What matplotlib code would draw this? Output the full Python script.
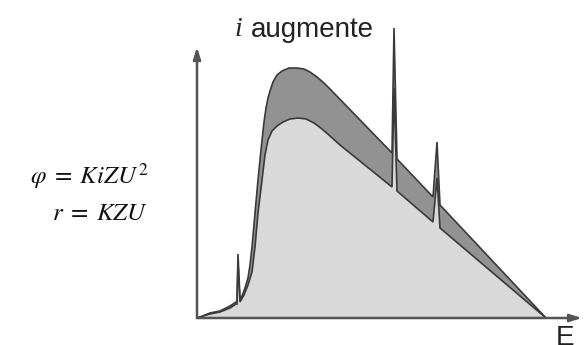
import matplotlib
matplotlib.use("Agg")
import matplotlib.pyplot as plt

# Energy (arbitrary units) and intensity of the two spectra
energy_high = [0, 3, 13, 23, 33, 39, 40, 41, 43, 45, 48, 51, 53, 55, 58, 61, 64, 67, 69, 71,
               73, 76, 80, 85, 92, 100, 107, 113, 120, 127, 133, 195, 197, 200, 236, 240, 243, 349]
intensity_high = [0, 1, 5, 7, 12, 16, 16, 64, 19, 22, 30, 40, 53, 71, 105, 138, 168, 196, 210, 220,
                  227, 236, 243, 247, 250, 250, 249, 246, 241, 235, 229, 165, 290, 159, 121, 176, 113, 0]

energy_low = [0, 3, 13, 23, 33, 39, 40, 41, 43, 47, 51, 55, 58, 61, 65, 68, 71, 75, 80, 86,
              93, 101, 109, 117, 125, 133, 143, 195, 197, 200, 236, 240, 243, 349]
intensity_low = [0, 1, 4, 6, 10, 14, 14, 55, 16, 23, 33, 46, 71, 105, 138, 163, 178, 187, 192, 196,
                 199, 200, 199, 195, 189, 182, 173, 131, 230, 127, 96, 140, 90, 0]

label_top = "augmente"
label_x = "E"
formula_1 = r"$\varphi\;=\;KiZU^2$"
formula_2 = r"$r\;=\;KZU$"

plt.rcParams['mathtext.fontset'] = 'stix'

W, H = 587, 345
fig = plt.figure(figsize=(W / 100, H / 100), dpi=100)
x0, y0 = 197, 318
ax = fig.add_axes([x0 / W, (H - y0) / H, (582 - x0) / W, (y0 - 20) / H])
ax.set_xlim(0, 582 - x0)
ax.set_ylim(0, y0 - 20)
ax.axis('off')

ax.fill(energy_high + [energy_high[0]], intensity_high + [intensity_high[0]],
        facecolor='#929292', edgecolor='#3a3a3a', linewidth=1.2, zorder=2, clip_on=False)
ax.fill(energy_low + [energy_low[0]], intensity_low + [intensity_low[0]],
        facecolor='#d9d9d9', edgecolor='#3a3a3a', linewidth=1.2, zorder=3, clip_on=False)

# Axes arrows
arrow_kw = dict(arrowstyle='-|>,head_length=0.7,head_width=0.22', color='#555555', lw=1.8,
                shrinkA=0, shrinkB=0)
ax.annotate('', xy=(0, 271), xytext=(0, 0), xycoords='data',
            arrowprops=dict(**arrow_kw), zorder=4, annotation_clip=False)
ax.annotate('', xy=(385, 0), xytext=(0, 0), xycoords='data',
            arrowprops=dict(**arrow_kw), zorder=4, annotation_clip=False)

# Texts (figure pixel coordinates)
def fx(px):
    return px / W

def fy(py):
    return 1 - py / H

fig.text(fx(234), fy(30), "i", fontsize=20, family='Liberation Serif', style='italic',
         ha='left', va='center', color='#222222')
fig.text(fx(251), fy(30), label_top, fontsize=20, family='Liberation Sans',
         ha='left', va='center', color='#222222')
fig.text(fx(565), fy(338), label_x, fontsize=20, family='Liberation Sans',
         ha='center', va='center', color='#222222')
fig.text(fx(148), fy(176), formula_1, fontsize=18, ha='right', va='center', color='#111111')
fig.text(fx(148), fy(213), formula_2, fontsize=18, ha='right', va='center', color='#111111')

fig.savefig('out.png', dpi=100, facecolor='white')
